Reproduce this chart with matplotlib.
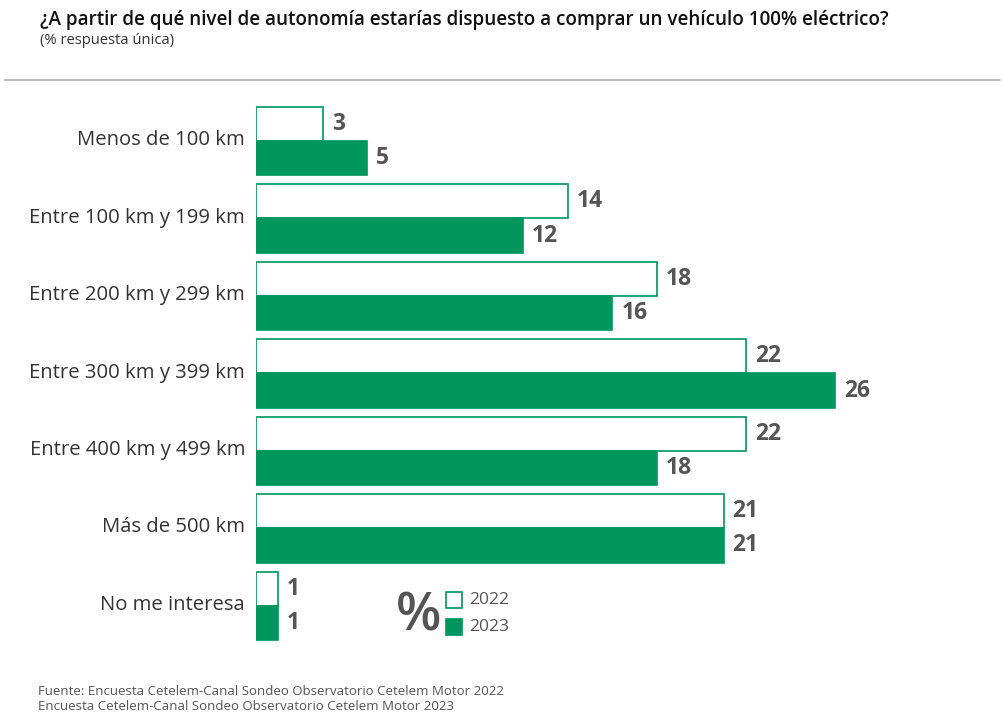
import numpy as np
import matplotlib
matplotlib.use("Agg")
import matplotlib.pyplot as plt
from matplotlib.patches import Rectangle

categories = [
    "Menos de 100 km",
    "Entre 100 km y 199 km",
    "Entre 200 km y 299 km",
    "Entre 300 km y 399 km",
    "Entre 400 km y 499 km",
    "Más de 500 km",
    "No me interesa",
]
values_2022 = [3, 14, 18, 22, 22, 21, 1]
values_2023 = [5, 12, 16, 26, 18, 21, 1]
series_labels = ["2022", "2023"]

title = "¿A partir de qué nivel de autonomía estarías dispuesto a comprar un vehículo 100% eléctrico?"
subtitle = "(% respuesta única)"
source = ("Fuente: Encuesta Cetelem-Canal Sondeo Observatorio Cetelem Motor 2022\n"
          "Encuesta Cetelem-Canal Sondeo Observatorio Cetelem Motor 2023")

GREEN = "#00965e"
TEXT = "#333333"
VAL = "#555555"
W, H = 1002, 726

plt.rcParams["font.family"] = ["Open Sans", "DejaVu Sans"]

fig = plt.figure(figsize=(W / 100, H / 100), dpi=100)


def fx(x):
    return x / W


def fy(y):
    return 1 - y / H


# axes placed in pixel coords: left 256, right 1000, top 102, bottom 647
ax = fig.add_axes([fx(256), fy(647), fx(1000) - fx(256), fy(102) - fy(647)])
xmax = (1000 - 256) / 22.27
ax.set_xlim(0, xmax)
ax.set_ylim(6.53, -0.503)
ax.axis("off")

y = np.arange(len(categories))
h = 0.44
ax.barh(y - h / 2, values_2022, height=h, color="white", edgecolor=GREEN, linewidth=1.2)
ax.barh(y + h / 2, values_2023, height=h, color=GREEN, edgecolor=GREEN, linewidth=1.2)

for i, (a, b) in enumerate(zip(values_2022, values_2023)):
    ax.text(a + 0.4, i - h / 2, str(a), va="center", ha="left", fontsize=16.5,
            fontweight="bold", color=VAL)
    ax.text(b + 0.4, i + h / 2, str(b), va="center", ha="left", fontsize=16.5,
            fontweight="bold", color=VAL)
    fig.text(fx(245), fy(140 + 77.5 * i), categories[i], ha="right", va="center",
             fontsize=14.6, color=TEXT)

# title block
fig.text(fx(40), fy(20), title, ha="left", va="center", fontsize=13.6,
         fontweight="semibold", color="#111111")
fig.text(fx(40), fy(41), subtitle, ha="left", va="center", fontsize=10.6, color=TEXT)
fig.add_artist(plt.Line2D([fx(5), fx(1000)], [fy(80), fy(80)], color="#aaaaaa",
                          linewidth=1.2))

# legend
fig.text(fx(396), fy(617), "%", ha="left", va="center", fontsize=38,
         fontweight="semibold", color=VAL)
fig.add_artist(Rectangle((fx(446), fy(608)), fx(16), fy(592) - fy(608),
                         facecolor="white", edgecolor=GREEN, linewidth=1.2))
fig.add_artist(Rectangle((fx(446), fy(635)), fx(16), fy(619) - fy(635),
                         facecolor=GREEN, edgecolor=GREEN, linewidth=1.2))
fig.text(fx(469), fy(600), series_labels[0], ha="left", va="center", fontsize=12.5,
         color=VAL)
fig.text(fx(469), fy(627), series_labels[1], ha="left", va="center", fontsize=12.5,
         color=VAL)

fig.text(fx(38), fy(699), source, ha="left", va="center", fontsize=9.5,
         color="#555555", linespacing=1.25)

fig.savefig("out.png", dpi=100)
